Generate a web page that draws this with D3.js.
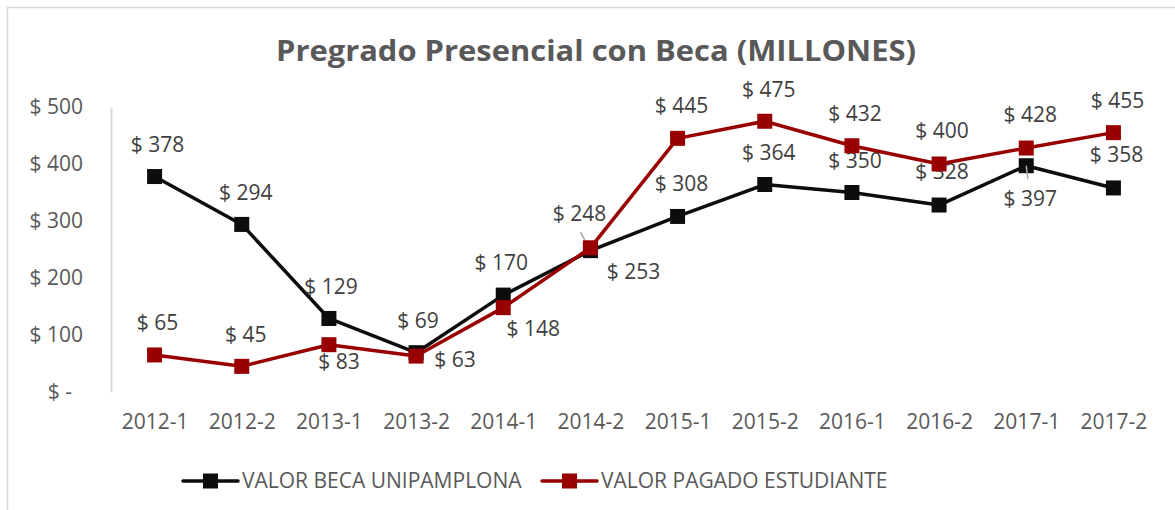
<!DOCTYPE html>
<html>
<head>
<meta charset="utf-8">
<script src="https://cdn.jsdelivr.net/npm/d3@7"></script>
<style>
  body { margin: 0; background: #fff; }
  text { font-family: "Open Sans", "Liberation Sans", sans-serif; }
</style>
</head>
<body>
<div id="chart"></div>
<script>
// datos
var periodos = ["2012-1", "2012-2", "2013-1", "2013-2", "2014-1", "2014-2", "2015-1", "2015-2", "2016-1", "2016-2", "2017-1", "2017-2"];
var becaUnipamplona = [378, 294, 129, 69, 170, 248, 308, 364, 350, 328, 397, 358];
var pagadoEstudiante = [65, 45, 83, 63, 148, 253, 445, 475, 432, 400, 428, 455];
var yTicks = [0, 100, 200, 300, 400, 500];
var serieNombres = ["VALOR BECA UNIPAMPLONA", "VALOR PAGADO ESTUDIANTE"];

// posicion de etiquetas (dx, dy) respecto al punto
var labelOffsetBeca = [[3, -32], [4, -32], [2, -32], [2, -32], [-2, -32], [-11, -37], [4, -33], [4, -32], [3, -32], [3, -33], [4, 33], [3, -33]];
var labelOffsetPagado = [[3, -32], [4, -32], [10, 17], [39, 4], [30, 21], [43, 24], [4, -33], [4, -32], [3, -32], [3, -33], [4, -33], [4, -32]];
var leaderBeca = [5, 10]; // indices con linea guia

var width = 1175, height = 510;
var margin = { top: 107, right: 18, bottom: 118, left: 111 };

var svg = d3.select("#chart").append("svg")
  .attr("width", width)
  .attr("height", height);

// marco
svg.append("rect")
  .attr("x", 7.5).attr("y", 7.5)
  .attr("width", width + 20).attr("height", height + 20)
  .attr("fill", "none")
  .attr("stroke", "#d9d9d9")
  .attr("stroke-width", 1.5);

var x = d3.scalePoint()
  .domain(periodos)
  .range([margin.left, width - margin.right])
  .padding(0.5);

var y = d3.scaleLinear()
  .domain([0, 500])
  .range([height - margin.bottom, margin.top]);

// titulo
svg.append("text")
  .attr("x", 596)
  .attr("y", 61)
  .attr("text-anchor", "middle")
  .attr("fill", "#595959")
  .style("font-size", "29px")
  .style("font-weight", "bold")
  .attr("textLength", 640)
  .attr("lengthAdjust", "spacingAndGlyphs")
  .text("Pregrado Presencial con Beca (MILLONES)");

// eje y
var yAxis = svg.append("g")
  .attr("transform", "translate(" + margin.left + ",0)")
  .call(d3.axisLeft(y).tickValues(yTicks).tickSize(0).tickPadding(28)
    .tickFormat(function (d) { return d === 0 ? "$ -" : "$ " + d; }));
yAxis.select(".domain").attr("stroke", "#d9d9d9").attr("stroke-width", 2);
yAxis.selectAll("text")
  .attr("fill", "#595959")
  .style("font-size", "21px")
  .attr("dx", function (d) { return d === 0 ? -11 : 0; });

// eje x
var xAxis = svg.append("g")
  .attr("transform", "translate(0," + y(0) + ")")
  .call(d3.axisBottom(x).tickSize(0).tickPadding(22));
xAxis.select(".domain").remove();
xAxis.selectAll("text")
  .attr("fill", "#595959")
  .style("font-size", "21px");

var line = d3.line()
  .x(function (d, i) { return x(periodos[i]); })
  .y(function (d) { return y(d); });

function serie(values, color, offsets, leaders) {
  var g = svg.append("g");
  g.append("path")
    .datum(values)
    .attr("fill", "none")
    .attr("stroke", color)
    .attr("stroke-width", 3.5)
    .attr("stroke-linejoin", "round")
    .attr("d", line);
  g.selectAll("rect")
    .data(values)
    .enter()
    .append("rect")
    .attr("x", function (d, i) { return x(periodos[i]) - 7.5; })
    .attr("y", function (d) { return y(d) - 7.5; })
    .attr("width", 15)
    .attr("height", 15)
    .attr("fill", color);
  // lineas guia
  g.selectAll("line.guia")
    .data(leaders)
    .enter()
    .append("line")
    .attr("class", "guia")
    .attr("x1", function (i) { return x(periodos[i]); })
    .attr("y1", function (i) { return y(values[i]); })
    .attr("x2", function (i) { return x(periodos[i]) + offsets[i][0] * 0.9 + (offsets[i][1] < 0 ? 0 : -2); })
    .attr("y2", function (i) { return y(values[i]) + offsets[i][1] * (offsets[i][1] < 0 ? 0.5 : 0.4); })
    .attr("stroke", "#a6a6a6")
    .attr("stroke-width", 1.5);
  g.selectAll("text")
    .data(values)
    .enter()
    .append("text")
    .attr("x", function (d, i) { return x(periodos[i]) + offsets[i][0]; })
    .attr("y", function (d, i) { return y(d) + offsets[i][1]; })
    .attr("dy", "0.35em")
    .attr("text-anchor", "middle")
    .attr("fill", "#404040")
    .style("font-size", "21px")
    .text(function (d) { return "$ " + d; });
}

serie(becaUnipamplona, "#0d0d0d", labelOffsetBeca, leaderBeca);
serie(pagadoEstudiante, "#990000", labelOffsetPagado, []);

// leyenda
var colores = ["#0d0d0d", "#990000"];
var legendX = [183, 542];
var legend = svg.append("g").attr("transform", "translate(0,481)");
var items = legend.selectAll("g")
  .data(serieNombres)
  .enter()
  .append("g")
  .attr("transform", function (d, i) { return "translate(" + legendX[i] + ",0)"; });
items.append("line")
  .attr("x1", 0).attr("x2", 55)
  .attr("stroke", function (d, i) { return colores[i]; })
  .attr("stroke-width", 3.5)
  .attr("stroke-linecap", "round");
items.append("rect")
  .attr("x", 20).attr("y", -7.5)
  .attr("width", 15).attr("height", 15)
  .attr("fill", function (d, i) { return colores[i]; });
items.append("text")
  .attr("x", 59)
  .attr("dy", "0.35em")
  .attr("fill", "#595959")
  .style("font-size", "21px")
  .text(function (d) { return d; });
</script>
</body>
</html>
